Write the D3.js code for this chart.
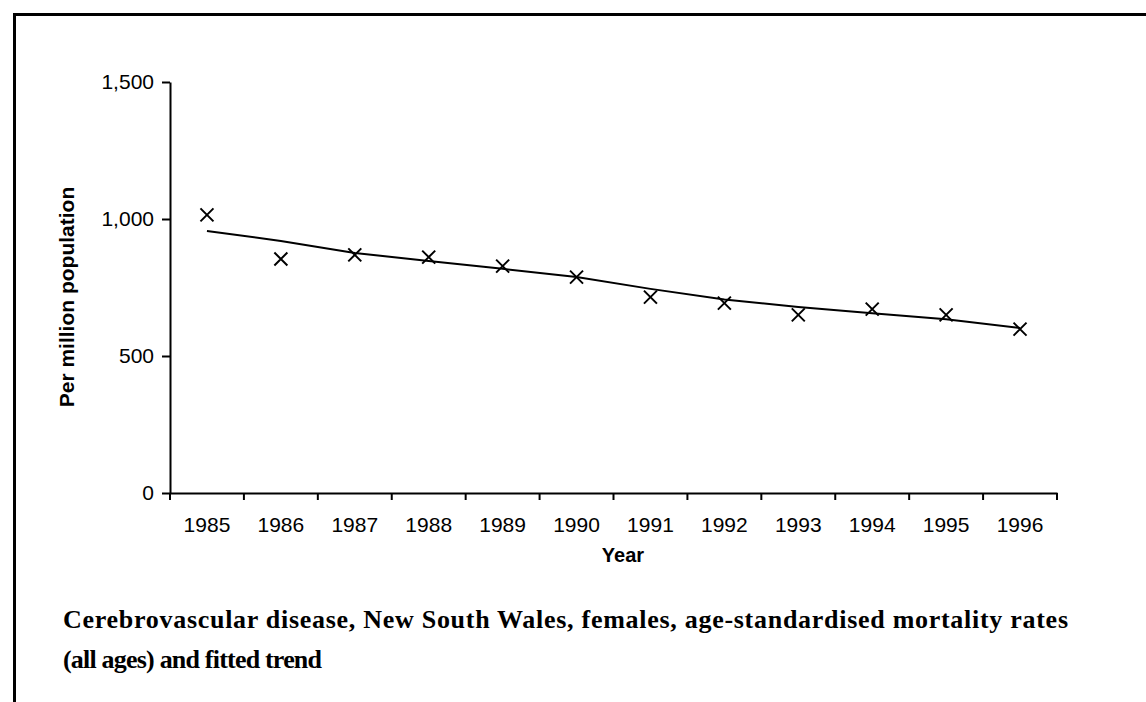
<!DOCTYPE html>
<html><head><meta charset="utf-8">
<script src="https://cdn.jsdelivr.net/npm/d3@7"></script>
<style>html,body{margin:0;padding:0;background:#fff;}svg{display:block;}</style>
</head><body>
<script>
const years = ["1985","1986","1987","1988","1989","1990","1991","1992","1993","1994","1995","1996"];
const rates = [1015, 854, 869, 861, 828, 788, 715, 693, 650, 671, 650, 598];
const trend = [956, 920, 876, 847, 818, 788, 745, 706, 679, 656, 634, 602];
const yTicks = [0, 500, 1000, 1500];
const titleLines = ["Cerebrovascular disease, New South Wales, females, age-standardised mortality rates", "(all ages) and fitted trend"];

const W = 1146, H = 702;
const svg = d3.select("body").append("svg").attr("width", W).attr("height", H);

// frame (left + top border)
svg.append("path").attr("d", `M14.5,${H} V14.5 H${W}`).attr("fill","none").attr("stroke","#000").attr("stroke-width",3);

const x = d3.scaleBand().domain(years).range([170, 1057]).paddingInner(0).paddingOuter(0);
const y = d3.scaleLinear().domain([0, 1500]).range([493, 82]);

const sans = "Liberation Sans, Arial, sans-serif";

// y axis
const ya = svg.append("g").attr("transform","translate(170,0)")
  .call(d3.axisLeft(y).tickValues(yTicks).tickFormat(d3.format(",")).tickSize(8).tickSizeOuter(0).tickPadding(8));
ya.select(".domain").attr("stroke","#000").attr("stroke-width",2);
ya.selectAll(".tick line").attr("stroke","#000").attr("stroke-width",2);
ya.selectAll(".tick text").attr("font-family",sans).attr("font-size",21).attr("fill","#000");

// x axis
const xa = svg.append("g").attr("transform","translate(0,493)")
  .call(d3.axisBottom(x).tickSize(0).tickPadding(24));
xa.select(".domain").attr("stroke","#000").attr("stroke-width",2);
xa.selectAll(".tick text").attr("font-family",sans).attr("font-size",21).attr("fill","#000");
// band boundary ticks
const bounds = years.map(d => x(d)).concat([x.range()[1]]);
xa.selectAll(".btick").data(bounds).enter().append("line")
  .attr("x1", d => d).attr("x2", d => d).attr("y1", 0).attr("y2", 7)
  .attr("stroke","#000").attr("stroke-width",2);

// axis titles
svg.append("text").attr("x", 623).attr("y", 562).attr("text-anchor","middle")
  .attr("font-family",sans).attr("font-weight","bold").attr("font-size",20).text("Year");
svg.append("text").attr("transform","translate(74,297) rotate(-90)").attr("text-anchor","middle")
  .attr("font-family",sans).attr("font-weight","bold").attr("font-size",21).text("Per million population");

// trend line
const cx = d => x(d) + x.bandwidth()/2;
svg.append("path").datum(years.map((d,i)=>[d, trend[i]]))
  .attr("d", d3.line().x(d=>cx(d[0])).y(d=>y(d[1])))
  .attr("fill","none").attr("stroke","#000").attr("stroke-width",2);

// markers
const s = 6.5;
svg.append("g").selectAll("path").data(years.map((d,i)=>[d, rates[i]])).enter().append("path")
  .attr("d", d => { const px = cx(d[0]), py = y(d[1]);
    return `M${px-s},${py-s}L${px+s},${py+s}M${px-s},${py+s}L${px+s},${py-s}`; })
  .attr("stroke","#000").attr("stroke-width",2).attr("fill","none");

// caption
const capLen = [1005, 259];
svg.append("g").selectAll("text").data(titleLines).enter().append("text")
  .attr("x", 63).attr("y", (d,i) => 628 + i*40)
  .attr("textLength", (d,i) => capLen[i]).attr("lengthAdjust","spacing")
  .attr("font-family","Liberation Serif, Times New Roman, serif").attr("font-weight","bold").attr("font-size",26)
  .attr("fill","#000").text(d => d);
</script>
</body></html>
